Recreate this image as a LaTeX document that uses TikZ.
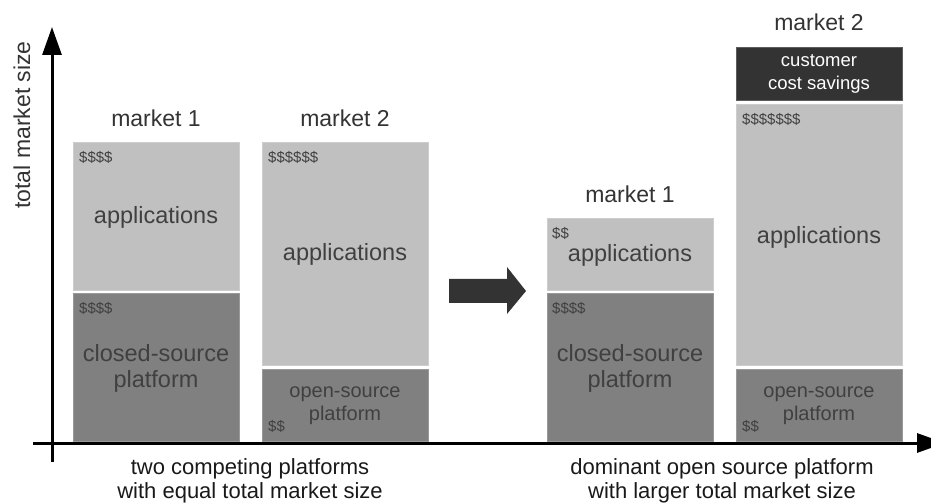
\documentclass[tikz,border=0pt]{standalone}
\usepackage{fontspec}
\setmainfont{Liberation Sans}
\usetikzlibrary{arrows.meta}
\definecolor{lightbox}{HTML}{C0C0C0}
\definecolor{darkbox}{HTML}{808080}
\definecolor{blackbox}{HTML}{333333}
\definecolor{boxtext}{HTML}{404040}
\definecolor{labeltext}{HTML}{333333}
\begin{document}
\begin{tikzpicture}[x=1bp,y=-1bp,
  box/.style={draw=#1!80!white,line width=0.6bp,fill=#1,inner sep=0pt,anchor=north west},
  bigtext/.style={text=boxtext,font=\fontsize{23.5bp}{26bp}\selectfont,align=center,inner sep=0pt},
  midtext/.style={text=boxtext,font=\fontsize{20bp}{23bp}\selectfont,align=center,inner sep=0pt},
  money/.style={text=boxtext,font=\fontsize{15bp}{17bp}\selectfont,anchor=west,inner sep=0pt},
  mlabel/.style={text=labeltext,font=\fontsize{23bp}{26bp}\selectfont,inner sep=0pt},
  caption/.style={text=black!90,font=\fontsize{22bp}{24bp}\selectfont,align=center,inner sep=0pt},
  axis/.style={line width=3bp,-{Triangle[length=28bp,width=19bp]}}]
\useasboundingbox (0,0) rectangle (931,504);
\clip (0,0) rectangle (931,504);
% boxes
\node[box=lightbox,minimum width=166bp,minimum height=148bp] (l1a) at (73,142) {};
\node[box=darkbox,minimum width=166bp,minimum height=148bp] (l1c) at (73,293) {};
\node[box=lightbox,minimum width=166bp,minimum height=223bp] (l2a) at (262,142) {};
\node[box=darkbox,minimum width=166bp,minimum height=72bp] (l2o) at (262,369) {};
\node[box=lightbox,minimum width=166bp,minimum height=72bp] (r1a) at (547,218) {};
\node[box=darkbox,minimum width=166bp,minimum height=148bp] (r1c) at (547,293) {};
\node[box=blackbox,minimum width=166bp,minimum height=53bp] (r2s) at (736,47) {};
\node[box=lightbox,minimum width=166bp,minimum height=261bp] (r2a) at (736,104) {};
\node[box=darkbox,minimum width=166bp,minimum height=72bp] (r2o) at (736,369) {};
% market labels
\node[mlabel] (m1l) at (156,118) {market 1};
\node[mlabel] (m2l) at (345,118) {market 2};
\node[mlabel] (m1r) at (630,194) {market 1};
\node[mlabel] (m2r) at (819,22) {market 2};
% box texts
\node[bigtext] (t1) at (156,217) {applications};
\node[bigtext] (t2) at (156,368) {closed-source\\platform};
\node[bigtext] (t3) at (345,254) {applications};
\node[midtext] (t4) at (345,406) {open-source\\platform};
\node[bigtext] (t5) at (630,255) {applications};
\node[bigtext] (t6) at (630,368) {closed-source\\platform};
\node[bigtext] (t7) at (819,237) {applications};
\node[midtext] (t8) at (819,406) {open-source\\platform};
\node[text=white,font=\fontsize{18.5bp}{23bp}\selectfont,align=center,inner sep=0pt] (t9) at (819,74) {customer\\cost savings};
% money
\node[money] (d1) at (79,157) {\$\$\$\$};
\node[money] (d2) at (79,308) {\$\$\$\$};
\node[money] (d3) at (268,157) {\$\$\$\$\$\$};
\node[money] (d4) at (268,426) {\$\$};
\node[money] (d5) at (552,233) {\$\$};
\node[money] (d6) at (552,308) {\$\$\$\$};
\node[money] (d7) at (742,119) {\$\$\$\$\$\$\$};
\node[money] (d8) at (742,426) {\$\$};
% axes
\coordinate (xs) at (33,443);
\coordinate (xe) at (945,443);
\coordinate (ys) at (52,462);
\coordinate (ye) at (52,27);
\draw[axis] (xs) -- (xe);
\draw[axis] (ys) -- (ye);
\node[text=labeltext,font=\fontsize{23bp}{26bp}\selectfont,rotate=90,inner sep=0pt] (yl) at (22,125) {total market size};
% transition arrow
\fill[blackbox] (449,279) -- (507,279) -- (507,267) -- (526,291) -- (507,314) -- (507,303) -- (449,303) -- cycle;
% captions
\node[caption] (c1) at (250,481) {two competing platforms\\with equal total market size};
\node[caption] (c2) at (722,481) {dominant open source platform\\with larger total market size};
\end{tikzpicture}
\end{document}
